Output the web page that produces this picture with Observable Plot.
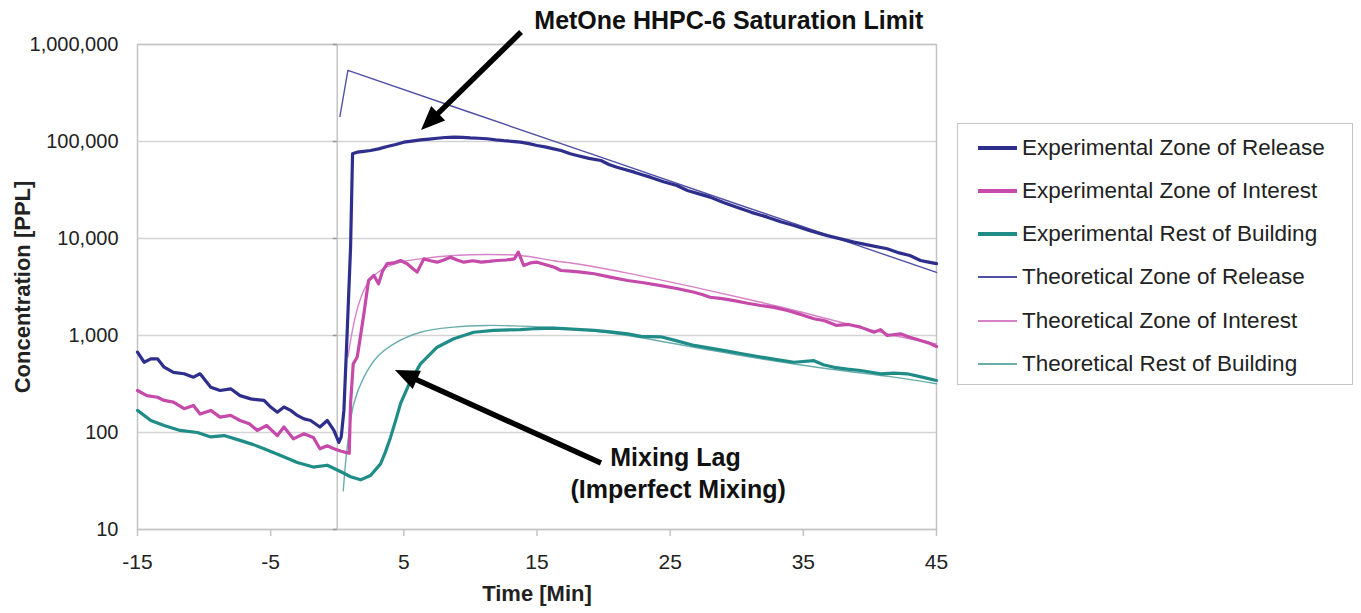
<!DOCTYPE html>
<html>
<head>
<meta charset="utf-8">
<script src="https://cdn.jsdelivr.net/npm/d3@7"></script>
<script src="https://cdn.jsdelivr.net/npm/@observablehq/plot@0.6"></script>
<style>
  html, body { margin: 0; padding: 0; background: #fff; }
  #wrap { position: relative; width: 1361px; height: 613px; overflow: hidden; font-family: "Liberation Sans", Arial, sans-serif; }
  #legend { position: absolute; left: 957px; top: 123px; width: 394px; height: 260px; border: 1.5px solid #c4c4c4; background: #fff; }
  .item { position: absolute; left: 0; height: 30px; font-size: 22.5px; color: #222; white-space: nowrap; }
  .item .sw { position: absolute; left: 20px; width: 39px; top: 50%; }
  .item .lb { position: absolute; left: 64px; top: 50%; transform: translateY(-50%); }
</style>
</head>
<body>
<div id="wrap"><div id="legend"></div></div>
<script>
// ---- data (time in minutes, concentration in PPL) ----
const xTicks = [-15, -5, 5, 15, 25, 35, 45];
const yTicks = [10, 100, 1000, 10000, 100000, 1000000];

const seriesNames = [
  "Experimental Zone of Release",
  "Experimental Zone of Interest",
  "Experimental Rest of Building",
  "Theoretical Zone of Release",
  "Theoretical Zone of Interest",
  "Theoretical Rest of Building"
];
const seriesColors = ["#2e2f8c", "#c54aa9", "#1f8c87", "#5150a6", "#d782c8", "#6aaeac"];
const seriesWidths = [3.2, 3.2, 3.2, 1.4, 1.4, 1.4];

const expRelease = [
  [-15,673],[-14.5,530],[-14,575],[-13.5,575],[-13,471],[-12.3,417],[-11.5,403],[-10.8,372],[-10.3,403],
  [-9.5,293],[-8.8,271],[-8,282],[-7.3,240],[-6.5,222],[-5.5,214],[-5,183],[-4.5,162],[-4,183],[-3.5,169],
  [-3,150],[-2.5,138],[-2,133],[-1.3,114],[-0.75,133],[-0.25,105],[0.12,79],[0.3,90],[0.5,169],[0.75,1120],
  [1.0,8100],[1.15,74700],[1.3,76000],[1.5,77600],[2.0,79000],[2.5,80700],[3.1,84000],[3.75,88700],[4.4,93000],
  [5.0,98400],[5.6,101000],[6.25,104000],[6.9,106000],[7.5,108000],[8.1,110000],[8.75,110700],[9.4,110500],
  [10,109000],[10.6,108000],[11.25,106700],[11.9,104000],[12.5,102000],[13.1,100500],[13.75,98400],[14.4,95000],
  [15,91000],[15.6,88000],[16.25,84000],[16.8,80700],[17.5,74700],[18,71800],[18.9,67000],[19.8,63700],
  [20.4,58000],[21,54300],[21.6,51500],[22.3,48300],[22.9,45500],[23.5,42900],[24.5,38500],[25.5,35200],
  [26.3,31200],[27.1,29000],[28,26700],[29,23500],[30,21000],[31.1,18600],[32.3,16600],[33.3,14900],
  [34.3,13600],[35.5,12000],[36.8,10700],[37.8,9900],[38.8,9170],[40,8500],[41.3,7830],[42.2,7100],
  [43,6680],[43.8,5930],[44.4,5700],[45,5500]
];
const expInterest = [
  [-15,271],[-14.3,240],[-13.5,231],[-13,214],[-12.3,206],[-11.5,176],[-10.8,190],[-10.3,155],[-9.5,169],
  [-8.8,144],[-8,150],[-7.3,133],[-6.6,123],[-6,105],[-5.3,118],[-4.5,93],[-4,114],[-3.3,86],[-2.5,97],
  [-1.8,89],[-1.3,68],[-0.75,73],[-0.25,68],[0.3,64],[0.9,61],[1.0,200],[1.2,510],[1.5,600],[1.7,900],
  [2.0,1680],[2.35,3690],[2.75,4160],[3.1,3410],[3.4,4600],[3.75,5500],[4.25,5600],[4.75,5930],[5.25,5500],
  [5.6,5000],[6.0,4500],[6.5,6170],[7.0,5900],[7.5,5700],[8.0,6000],[8.5,6420],[9.0,6000],[9.5,5700],
  [10.2,5900],[10.8,5700],[11.4,5800],[12,5930],[12.7,6000],[13.3,6170],[13.6,7230],[14.0,5270],[14.5,5600],
  [15,5700],[15.6,5400],[16.3,5060],[16.8,4680],[17.5,4600],[18.3,4500],[19.3,4330],[20.5,4000],[21.8,3690],
  [23,3500],[24.3,3270],[25.5,3050],[26.8,2790],[27.4,2650],[28,2480],[28.9,2400],[29.8,2290],[30.8,2150],
  [31.8,2040],[32.8,1950],[33.8,1810],[34.8,1650],[35.8,1490],[36.6,1420],[37.5,1270],[38.4,1300],[39.3,1220],
  [40.3,1080],[40.8,1150],[41.3,1000],[42.3,1040],[43,960],[43.8,890],[44.4,840],[45,770]
];
const expRest = [
  [-15,169],[-14,133],[-13,118],[-11.8,105],[-10.5,100],[-9.5,90],[-8.5,93],[-7.3,83],[-6.3,75],[-5.5,68],
  [-4.25,58],[-3,49],[-1.8,44],[-0.75,46],[0,41],[0.5,38],[1,35],[1.75,32.5],[2.5,36],[3.25,47.5],[3.6,62],
  [4,89],[4.4,135],[4.75,198],[5.4,318],[6.25,510],[7.5,757],[8.75,925],[10.25,1080],[11.75,1130],[13.75,1150],
  [15,1180],[16.25,1190],[17.3,1170],[18.3,1150],[19.3,1130],[20.5,1090],[21.8,1040],[22.8,980],[24.3,970],
  [25.5,880],[26.8,790],[28,740],[29.3,690],[30.5,645],[31.8,600],[33,565],[34.3,530],[35.8,550],[36.5,500],
  [37.3,470],[38.3,450],[39.3,436],[40.8,403],[41.8,410],[42.8,403],[44,370],[45,344]
];
const theoRelease = [[0.2,181000],[0.8,540000],[10,199000],[20,67300],[30,22700],[36.8,10900],[40,7690],[45,4470]];
const theoInterest = [
  [0.8,600],[1.0,890],[1.24,1320],[1.62,2120],[2.25,3410],[3.25,4680],[4.75,5700],[6.25,6170],[8.75,6680],
  [11.25,6840],[13.75,6680],[16.25,5900],[18.3,5400],[21.8,4400],[26.8,3150],[31.8,2200],[36.8,1490],
  [41.8,1000],[45,820]
];
const theoRest = [
  [0.45,25],[0.75,71],[1.24,198],[2.0,372],[3.0,600],[4.25,820],[6.25,1080],[8.75,1220],[11.25,1270],
  [13.75,1250],[16.25,1210],[18.3,1150],[21.8,1000],[26.8,757],[31.8,575],[36.8,454],[41.8,372],[45,318]
];

// annotations: anchor points in data coordinates
const noteTitle = {t: 29.4, v: 1.73e6, text: "MetOne HHPC-6 Saturation Limit"};
const noteLag = [{t: 25.4, v: 55, text: "Mixing Lag"}, {t: 25.6, v: 25.8, text: "(Imperfect Mixing)"}];
const arrows = [
  {t1: 13.84, v1: 1.33e6, t2: 6.33, v2: 129700},
  {t1: 19.84, v1: 47.9, t2: 4.37, v2: 435}
];

// ---- build marks ----
const allSeries = [expRelease, expInterest, expRest, theoRelease, theoInterest, theoRest];
const fmt = d3.format(",");

function arrowMark(list) {
  return (index, scales) => {
    const g = d3.create("svg:g");
    for (const a of list) {
      const x1 = scales.x(a.t1), y1 = scales.y(a.v1), x2 = scales.x(a.t2), y2 = scales.y(a.v2);
      const ang = Math.atan2(y2 - y1, x2 - x1);
      const L = 24, W = 10;
      const bx = x2 - L * Math.cos(ang), by = y2 - L * Math.sin(ang);
      g.append("line").attr("x1", x1).attr("y1", y1).attr("x2", bx + 2 * Math.cos(ang)).attr("y2", by + 2 * Math.sin(ang))
        .attr("stroke", "#000").attr("stroke-width", 5.5);
      g.append("polygon")
        .attr("points", [[x2, y2], [bx + W * Math.sin(ang), by - W * Math.cos(ang)], [bx - W * Math.sin(ang), by + W * Math.cos(ang)]].map(p => p.join(",")).join(" "))
        .attr("fill", "#000");
    }
    return g.node();
  };
}

const lineMarks = allSeries.map((s, i) => Plot.line(s, {
  x: d => d[0], y: d => d[1],
  stroke: seriesColors[i], strokeWidth: seriesWidths[i],
  curve: i >= 4 ? "catmull-rom" : "linear"
}));

const chart = Plot.plot({
  width: 1361, height: 613,
  marginLeft: 137, marginRight: 425, marginTop: 44, marginBottom: 84,
  style: {fontFamily: "'Liberation Sans', Arial, sans-serif", fontSize: "20px", color: "#222", background: "transparent", overflow: "visible"},
  x: {type: "linear", domain: [-15, 45]},
  y: {type: "log", domain: [10, 1e6]},
  marks: [
    Plot.gridY(yTicks, {stroke: "#d4d4d4", strokeOpacity: 1, strokeWidth: 1.5}),
    Plot.frame({stroke: "#c4c4c4", strokeWidth: 1.5}),
    Plot.ruleX([0], {stroke: "#c4c4c4", strokeWidth: 1.5}),
    Plot.ruleY(yTicks, {x1: -0.3, x2: 0, stroke: "#999", strokeWidth: 1.5}),
    ...lineMarks.slice(3), ...lineMarks.slice(0, 3),
    Plot.axisX(xTicks, {tickSize: 7, tickPadding: 18, tickFormat: d => String(d), stroke: "#c4c4c4", strokeWidth: 1.5, fill: "#222", fontSize: 21, label: null}),
    Plot.axisY(yTicks, {tickSize: 0, tickPadding: 19, tickFormat: fmt, fill: "#222", fontSize: 20, label: null}),
    Plot.text(["Concentration [PPL]"], {frameAnchor: "left", dx: -115, rotate: -90, textAnchor: "middle", fontWeight: "bold", fontSize: 22, fill: "#222"}),
    Plot.text(["Time [Min]"], {frameAnchor: "bottom", dy: 71, fontWeight: "bold", fontSize: 22, fill: "#222"}),
    Plot.text([noteTitle], {x: "t", y: "v", text: "text", fontWeight: "bold", fontSize: 25, fill: "#111"}),
    Plot.text(noteLag, {x: "t", y: "v", text: "text", fontWeight: "bold", fontSize: 25, fill: "#111"}),
    arrowMark(arrows)
  ]
});

const wrap = document.getElementById("wrap");
wrap.insertBefore(chart, wrap.firstChild);

// legend
const legend = document.getElementById("legend");
const rowCenters = [24, 67, 110, 153, 197, 240];
seriesNames.forEach((name, i) => {
  const item = document.createElement("div");
  item.className = "item";
  item.style.top = (rowCenters[i] - 15) + "px";
  item.style.width = "390px";
  const sw = document.createElement("div");
  sw.className = "sw";
  sw.style.height = seriesWidths[i] + 0.6 + "px";
  sw.style.marginTop = -(seriesWidths[i] + 0.6) / 2 + "px";
  sw.style.background = seriesColors[i];
  const lb = document.createElement("div");
  lb.className = "lb";
  lb.textContent = name;
  item.appendChild(sw);
  item.appendChild(lb);
  legend.appendChild(item);
});
</script>
</body>
</html>
